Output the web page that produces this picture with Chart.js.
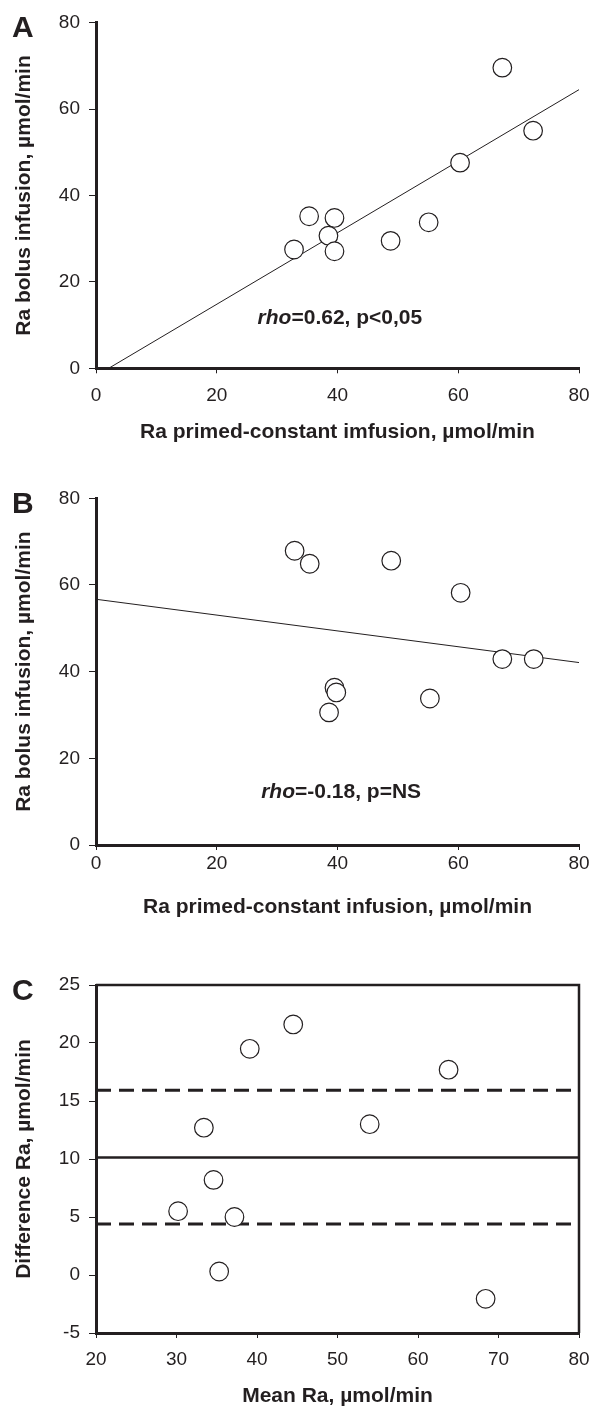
<!DOCTYPE html>
<html>
<head>
<meta charset="utf-8">
<script src="https://cdn.jsdelivr.net/npm/chart.js@4.4.1/dist/chart.umd.min.js"></script>
<style>
  html, body { margin: 0; padding: 0; background: #fff; }
  body { width: 592px; height: 1406px; overflow: hidden; position: relative; }
  canvas { position: absolute; left: 0; }
</style>
</head>
<body>
<canvas id="chartA" width="592" height="455" style="top:0"></canvas>
<canvas id="chartB" width="592" height="460" style="top:470px"></canvas>
<canvas id="chartC" width="592" height="470" style="top:950px"></canvas>
<script>
// Panel A - bolus vs primed-constant
const aPrimed = [67.3, 72.4, 60.3, 35.3, 39.5, 38.5, 32.8, 39.5, 48.8, 55.1];
const aBolus  = [69.6, 55.0, 47.6, 35.2, 34.8, 30.7, 27.5, 27.1, 29.5, 33.8];
const aFitX = [2.1, 80];
const aFitY = [0, 64.5];

// Panel B
const bPrimed = [32.9, 35.4, 48.9, 60.4, 67.3, 72.5, 39.5, 39.8, 38.6, 55.3];
const bBolus  = [67.9, 64.9, 65.6, 58.2, 42.9, 42.9, 36.3, 35.2, 30.6, 33.8];
const bFitX = [0, 80];
const bFitY = [56.7, 42.1];

// Panel C - Bland-Altman
const cMean = [44.5, 39.1, 63.8, 33.4, 54.0, 34.6, 30.2, 37.2, 35.3, 68.4];
const cDiff = [21.6, 19.5, 17.7, 12.7, 13.0, 8.2, 5.5, 5.0, 0.3, -2.05];
const cSpan = [20, 80];
const cBias = 10.13;
const cUpper = 15.93;
const cLower = 4.39;

// ticks
const abTicks = [0, 20, 40, 60, 80];
const cXTicks = [20, 30, 40, 50, 60, 70, 80];
const cYTicks = [-5, 0, 5, 10, 15, 20, 25];

const INK = '#231f20';
const FONT = '"Liberation Sans", Arial, Helvetica, sans-serif';

const pts = (xs, ys) => xs.map((x, i) => ({ x: x, y: ys[i] }));

function circles(xs, ys) {
  return {
    data: pts(xs, ys),
    order: 0,
    pointRadius: 9.3,
    pointBackgroundColor: '#fff',
    pointBorderColor: INK,
    pointBorderWidth: 1.2
  };
}

function line(xs, ys, width, dash) {
  return {
    data: pts(xs, ys),
    order: 1,
    showLine: true,
    borderColor: INK,
    borderWidth: width,
    borderDash: dash || [],
    pointRadius: 0
  };
}

function axis(min, max, ticks, title, o) {
  return {
    type: 'linear',
    min: min,
    max: max,
    afterBuildTicks: s => { s.ticks = ticks.map(v => ({ value: v })); },
    grid: { display: true, drawOnChartArea: false, drawTicks: true, tickLength: o.tl, color: INK, lineWidth: 1 },
    border: { display: true, color: INK, width: 3 },
    ticks: { color: INK, font: { family: FONT, size: 19 }, padding: o.pad, autoSkip: false, maxRotation: 0 },
    title: { display: true, text: title, color: INK, font: { family: FONT, size: 21, weight: 'bold' }, padding: o.titlePad },
    afterFit: s => {
      if (o.width) s.width = o.width;
      if (o.height) s.height = o.height;
      s.paddingLeft = 0; s.paddingRight = 0; s.paddingTop = 0; s.paddingBottom = 0;
    }
  };
}

// letters, C frame, rho notes
const extras = {
  id: 'extras',
  afterDatasetsDraw(chart, args, opts) {
    const ctx = chart.ctx;
    const area = chart.chartArea;
    ctx.save();
    ctx.fillStyle = INK;
    ctx.strokeStyle = INK;
    if (opts.box) {
      ctx.lineWidth = 2.5;
      ctx.beginPath();
      ctx.moveTo(area.left, area.top);
      ctx.lineTo(area.right, area.top);
      ctx.lineTo(area.right, area.bottom);
      ctx.stroke();
    }
    ctx.font = 'bold 30px ' + FONT;
    ctx.textBaseline = 'alphabetic';
    ctx.fillText(opts.letter, 12, opts.letterY);
    if (opts.note) {
      const px = chart.scales.x.getPixelForValue(opts.noteAt[0]);
      const py = chart.scales.y.getPixelForValue(opts.noteAt[1]);
      ctx.textBaseline = 'middle';
      ctx.font = 'italic bold 21px ' + FONT;
      const w1 = ctx.measureText('rho').width;
      ctx.font = 'bold 21px ' + FONT;
      const w2 = ctx.measureText(opts.note).width;
      let x0 = px - (w1 + w2) / 2;
      ctx.font = 'italic bold 21px ' + FONT;
      ctx.fillText('rho', x0, py);
      ctx.font = 'bold 21px ' + FONT;
      ctx.fillText(opts.note, x0 + w1, py);
    }
    ctx.restore();
  }
};

function makeChart(id, datasets, scales, padTop, extra) {
  return new Chart(document.getElementById(id), {
    type: 'scatter',
    data: { datasets: datasets },
    options: {
      responsive: false,
      animation: false,
      events: [],
      layout: { padding: { top: padTop, right: 13, bottom: 0, left: 0 } },
      scales: scales,
      plugins: { legend: { display: false }, tooltip: { enabled: false }, extras: extra }
    },
    plugins: [extras]
  });
}

const yTitleA = 'Ra bolus infusion, \u00b5mol/min';

makeChart('chartA',
  [circles(aPrimed, aBolus), line(aFitX, aFitY, 1)],
  {
    x: axis(0, 80, abTicks, 'Ra primed-constant imfusion, \u00b5mol/min', { tl: 5, pad: 10.8, height: 86.7, titlePad: { top: 0, bottom: 10 } }),
    y: axis(0, 80, abTicks, yTitleA, { tl: 7, pad: 9, width: 96, titlePad: { top: 11.7, bottom: 0 } })
  },
  22.7,
  { letter: 'A', letterY: 36.7, note: '=0.62, p<0,05', noteAt: [40.4, 11.7] });

makeChart('chartB',
  [circles(bPrimed, bBolus), line(bFitX, bFitY, 1)],
  {
    x: axis(0, 80, abTicks, 'Ra primed-constant infusion, \u00b5mol/min', { tl: 5, pad: 2.1, height: 85, titlePad: { top: 0, bottom: 10.4 } }),
    y: axis(0, 80, abTicks, yTitleA, { tl: 7, pad: 9, width: 96, titlePad: { top: 11.7, bottom: 0 } })
  },
  28.3,
  { letter: 'B', letterY: 43.3, note: '=-0.18, p=NS', noteAt: [40.6, 12.1] });

makeChart('chartC',
  [
    circles(cMean, cDiff),
    line(cSpan, [cUpper, cUpper], 3, [15, 8]),
    line(cSpan, [cBias, cBias], 2.5),
    line(cSpan, [cLower, cLower], 3, [15, 8])
  ],
  {
    x: axis(20, 80, cXTicks, 'Mean Ra, \u00b5mol/min', { tl: 5, pad: 10.6, height: 87, titlePad: { top: 0, bottom: 11.4 } }),
    y: axis(-5, 25, cYTicks, 'Difference Ra, \u00b5mol/min', { tl: 7, pad: 9, width: 96, titlePad: { top: 11.7, bottom: 0 } })
  },
  35,
  { letter: 'C', letterY: 50, box: true });
</script>
</body>
</html>
